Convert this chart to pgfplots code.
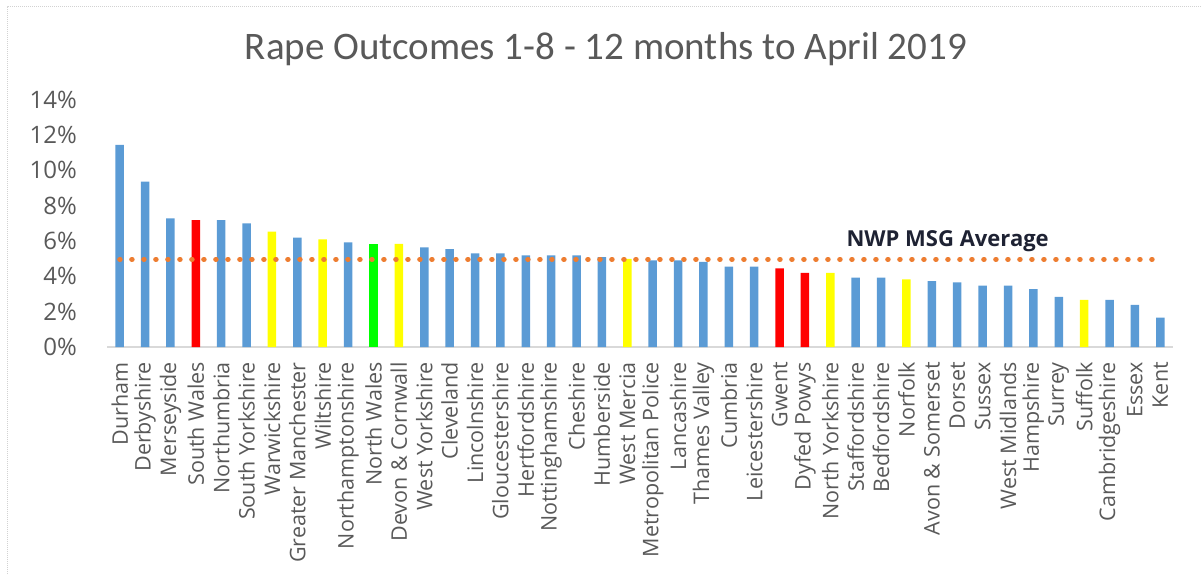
\documentclass[border=0pt]{standalone}
\usepackage{pgfplots}
\pgfplotsset{compat=1.18}
\usepackage{fontspec}
\setmainfont{Open Sans}
\newfontfamily\titlefont{Carlito}

\definecolor{barblue}{HTML}{5B9BD5}
\definecolor{barred}{HTML}{FF0000}
\definecolor{baryellow}{HTML}{FFFF00}
\definecolor{bargreen}{HTML}{00FF00}
\definecolor{avgorange}{HTML}{ED7D31}
\definecolor{txtgray}{HTML}{595959}
\definecolor{axisgray}{HTML}{D9D9D9}
\definecolor{darktext}{HTML}{1E2233}

\begin{document}
\begin{tikzpicture}[x=1pt,y=1pt]
\path[use as bounding box] (0,0) rectangle (1201,574);
% frame of the sheet
\draw[gray!35, densely dotted, line width=1pt] (7,0) -- (7,567) -- (1201,567);

\node[anchor=base, font=\titlefont\fontsize{39}{44}\selectfont, text=txtgray]
  at (606,514) {Rape Outcomes 1-8 - 12 months to April 2019};

\begin{axis}[
  at={(107pt,227pt)}, anchor=south west,
  scale only axis, width=1066pt, height=247.5pt,
  xmin=-0.5, xmax=41.5, ymin=0, ymax=14,
  ybar, bar width=8.5pt,
  separate axis lines,
  axis x line*=bottom, axis y line*=left,
  axis line style={-},
  x axis line style={draw=axisgray, line width=1.2pt},
  y axis line style={draw=none},
  major tick length=0pt, tick style={draw=none},
  xtick={0,...,41},
  xticklabels={Durham, Derbyshire, Merseyside, South Wales, Northumbria,
    South Yorkshire, Warwickshire, Greater Manchester, Wiltshire,
    Northamptonshire, North Wales, Devon \& Cornwall, West Yorkshire,
    Cleveland, Lincolnshire, Gloucestershire, Hertfordshire,
    Nottinghamshire, Cheshire, Humberside, West Mercia,
    Metropolitan Police, Lancashire, Thames Valley, Cumbria,
    Leicestershire, Gwent, Dyfed Powys, North Yorkshire, Staffordshire,
    Bedfordshire, Norfolk, Avon \& Somerset, Dorset, Sussex,
    West Midlands, Hampshire, Surrey, Suffolk, Cambridgeshire, Essex, Kent},
  xticklabel shift=15pt,
  xticklabel style={rotate=90, anchor=east, inner sep=0pt,
    font=\fontsize{21.5}{24}\selectfont, text=txtgray},
  ytick={0,2,...,14},
  yticklabels={0\%,2\%,4\%,6\%,8\%,10\%,12\%,14\%},
  yticklabel style={anchor=east, inner sep=0pt, xshift=-30pt,
    font=\fontsize{24}{26}\selectfont, text=txtgray},
  clip=false,
]
% blue forces
\addplot[fill=barblue, draw=none, bar shift=0pt] coordinates {
  (0,11.43) (1,9.35) (2,7.28) (4,7.18) (5,7.00) (7,6.18) (9,5.92)
  (12,5.64) (13,5.54) (14,5.30) (15,5.30) (16,5.19) (17,5.19) (18,5.19)
  (19,5.09) (21,4.90) (22,4.90) (23,4.81) (24,4.54) (25,4.54)
  (29,3.92) (30,3.92) (32,3.73) (33,3.66) (34,3.47) (35,3.47)
  (36,3.28) (37,2.83) (39,2.66) (40,2.38) (41,1.66)
};
% red forces
\addplot[fill=barred, draw=none, bar shift=0pt] coordinates {
  (3,7.18) (26,4.45) (27,4.20)
};
% yellow forces
\addplot[fill=baryellow, draw=none, bar shift=0pt] coordinates {
  (6,6.52) (8,6.09) (11,5.83) (20,4.99) (28,4.20) (31,3.83) (38,2.66)
};
% green force
\addplot[fill=bargreen, draw=none, bar shift=0pt] coordinates {
  (10,5.83)
};
% NWP MSG average
\addplot[sharp plot, draw=avgorange, line width=5pt, line cap=round,
  dash pattern=on 0.5pt off 11.5pt] coordinates {(0,4.96) (41,4.96)};
\node[anchor=base west, font=\bfseries\fontsize{22}{24}\selectfont,
  text=darktext] at (axis cs:28.5,5.66) {NWP MSG Average};
\end{axis}
\end{tikzpicture}
\end{document}
